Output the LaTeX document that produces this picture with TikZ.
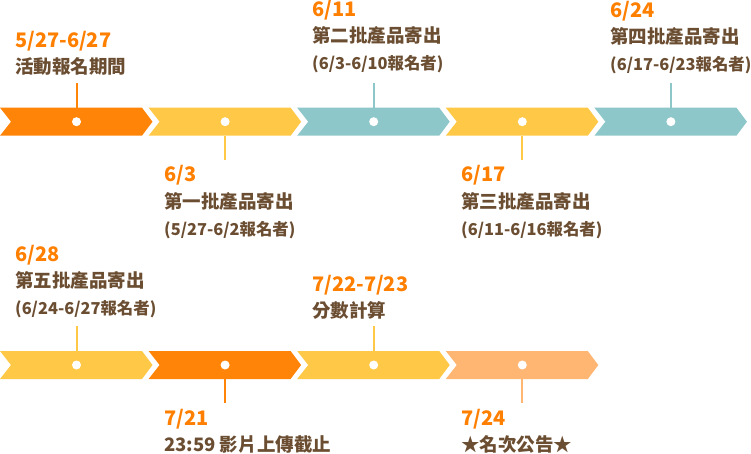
\documentclass[tikz,border=0pt]{standalone}
\usepackage{fontspec}
\setmainfont{Noto Sans CJK TC}
\definecolor{cOr}{HTML}{FF8408}
\definecolor{cYe}{HTML}{FFC846}
\definecolor{cTe}{HTML}{8EC7CA}
\definecolor{cLo}{HTML}{FFB672}
\definecolor{cDate}{HTML}{FF7F00}
\definecolor{cTxt}{HTML}{6B4E32}
\tikzset{
  dot/.style={circle,fill=white,minimum size=9pt,inner sep=0pt},
  datetxt/.style={anchor=base west,inner sep=0pt,text=cDate,font=\bfseries\fontsize{20}{20}\selectfont},
  cjktxt/.style={anchor=base west,inner sep=0pt,text=cTxt,font=\bfseries\fontsize{18.5}{20}\selectfont},
  partxt/.style={anchor=base west,inner sep=0pt,text=cTxt,font=\bfseries\fontsize{16.4}{20}\selectfont},
  stem/.style={draw=#1,line width=2pt},
}
\newcommand\mkseg[4]{%
  \fill[#3] (#1,#2-14) -- ++(142,0) -- ++(10.5,14) -- ++(-10.5,14) -- ++(-142,0) -- ++(11,-14) -- cycle;
  \node[dot] (#4) at (#1+76.5,#2) {};
}
\begin{document}
\begin{tikzpicture}[x=1pt,y=-1pt]
\useasboundingbox (0,0) rectangle (751,454);
% top row
\mkseg{0}{121.7}{cOr}{p1}
\mkseg{148.6}{121.7}{cYe}{p2}
\mkseg{297.2}{121.7}{cTe}{p3}
\mkseg{445.8}{121.7}{cYe}{p4}
\mkseg{594.4}{121.7}{cTe}{p5}
% bottom row
\mkseg{0}{365}{cYe}{q1}
\mkseg{148.6}{365}{cOr}{q2}
\mkseg{297.2}{365}{cYe}{q3}
\mkseg{445.8}{365}{cLo}{q4}
% stems top row
\coordinate (e1) at (76.5,107.7); \coordinate (f1) at (76.5,83);
\coordinate (e2) at (225.1,135.7); \coordinate (f2) at (225.1,160);
\coordinate (e3) at (373.7,107.7); \coordinate (f3) at (373.7,83);
\coordinate (e4) at (522.3,135.7); \coordinate (f4) at (522.3,160);
\coordinate (e5) at (670.9,107.7); \coordinate (f5) at (670.9,83);
\draw[stem=cOr] (e1) -- (f1);
\draw[stem=cYe] (e2) -- (f2);
\draw[stem=cTe] (e3) -- (f3);
\draw[stem=cYe] (e4) -- (f4);
\draw[stem=cTe] (e5) -- (f5);
% stems bottom row
\coordinate (g1) at (76.5,351); \coordinate (h1) at (76.5,326);
\coordinate (g2) at (225.1,379); \coordinate (h2) at (225.1,403);
\coordinate (g3) at (373.7,351); \coordinate (h3) at (373.7,326);
\coordinate (g4) at (522.3,379); \coordinate (h4) at (522.3,403);
\draw[stem=cYe] (g1) -- (h1);
\draw[stem=cOr] (g2) -- (h2);
\draw[stem=cYe] (g3) -- (h3);
\draw[stem=cLo] (g4) -- (h4);
% labels top row
\node[datetxt] (d1) at (15,48) {5/27-6/27};
\node[cjktxt] (t1) at (15,74) {活動報名期間};
\node[datetxt] (d2) at (164,182) {6/3};
\node[cjktxt] (t2) at (164,208) {第一批產品寄出};
\node[partxt] (u2) at (164,235) {(5/27-6/2報名者)};
\node[datetxt] (d3) at (312,17) {6/11};
\node[cjktxt] (t3) at (312,43) {第二批產品寄出};
\node[partxt] (u3) at (312,70) {(6/3-6/10報名者)};
\node[datetxt] (d4) at (461,182) {6/17};
\node[cjktxt] (t4) at (461,208) {第三批產品寄出};
\node[partxt] (u4) at (461,235) {(6/11-6/16報名者)};
\node[datetxt] (d5) at (610,18) {6/24};
\node[cjktxt] (t5) at (610,44) {第四批產品寄出};
\node[partxt] (u5) at (610,71) {(6/17-6/23報名者)};
% labels bottom row
\node[datetxt] (k1) at (15,261) {6/28};
\node[cjktxt] (l1) at (15,287) {第五批產品寄出};
\node[partxt] (m1) at (15,314) {(6/24-6/27報名者)};
\node[datetxt] (k2) at (164,425) {7/21};
\node[cjktxt] (l2) at (164,451) {23:59 影片上傳截止};
\node[datetxt] (k3) at (312,291) {7/22-7/23};
\node[cjktxt] (l3) at (312,317) {分數計算};
\node[datetxt] (k4) at (461,425) {7/24};
\node[cjktxt] (l4) at (461,451) {★名次公告★};
\end{tikzpicture}
\end{document}
